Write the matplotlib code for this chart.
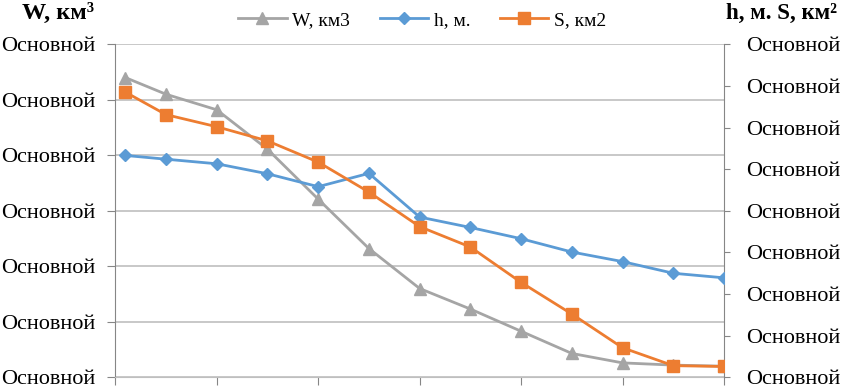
import matplotlib
matplotlib.use("Agg")
import matplotlib.pyplot as plt

# data (axis units: left 0..6, right 0..8)
x_vals = [0.2, 1, 2, 3, 4, 5, 6, 7, 8, 9, 10, 11, 12]
w_vals = [5.40, 5.10, 4.82, 4.11, 3.21, 2.32, 1.60, 1.23, 0.83, 0.43, 0.26, 0.22, 0.20]
h_vals = [5.33, 5.24, 5.13, 4.89, 4.58, 4.90, 3.85, 3.60, 3.33, 3.01, 2.78, 2.50, 2.39]
s_vals = [6.85, 6.31, 6.02, 5.68, 5.17, 4.45, 3.62, 3.13, 2.28, 1.52, 0.71, 0.28, 0.26]
left_ticks = [0, 1, 2, 3, 4, 5, 6]
right_ticks = [0, 1, 2, 3, 4, 5, 6, 7, 8]
tick_text = "Основной"

plt.rcParams['font.family'] = ['Liberation Serif', 'DejaVu Serif']

fig = plt.figure(figsize=(8.41, 3.86), dpi=100)
ax = fig.add_axes([0.1371, 0.0225, 0.8609 - 0.1371, 0.8852 - 0.0225])
ax2 = ax.twinx()

gray = '#A5A5A5'
blue = '#5B9BD5'
orange = '#ED7D31'

l1, = ax.plot(x_vals, w_vals, color=gray, lw=2.0, marker='^', ms=8, label='W, км3', zorder=3)
l2, = ax2.plot(x_vals, h_vals, color=blue, lw=2.0, marker='D', ms=6, label='h, м.', zorder=3)
l3, = ax2.plot(x_vals, s_vals, color=orange, lw=2.0, marker='s', ms=8, label='S, км2', zorder=4)

ax.set_xlim(0, 12)
ax.set_ylim(0, 6)
ax2.set_ylim(0, 8)
ax.set_xticks([0, 2, 4, 6, 8, 10, 12])
ax.set_xticklabels([])
ax.set_yticks(left_ticks)
ax.set_yticklabels([tick_text] * len(left_ticks), fontsize=16)
ax2.set_yticks(right_ticks)
ax2.set_yticklabels([tick_text] * len(right_ticks), fontsize=16)

ax.grid(axis='y', color='#BFBFBF', lw=1.2)
ax.set_axisbelow(True)
ax.spines['top'].set_visible(False)
ax2.spines['top'].set_visible(False)
ax.spines['right'].set_visible(False)
ax2.spines['left'].set_visible(False)
ax2.spines['bottom'].set_visible(False)
ax.spines['left'].set_color('#868686')
ax.spines['bottom'].set_color('#BFBFBF')
ax2.spines['right'].set_color('#868686')
ax.tick_params(axis='y', length=6, color='#868686', pad=8)
ax.tick_params(axis='x', length=6, color='#868686')
ax2.tick_params(axis='y', length=4, color='#868686', pad=12)

fig.text(0.026, 0.965, 'W, км³', fontsize=17.5, fontweight='bold', va='center')
fig.text(0.863, 0.965, 'h, м. S, км²', fontsize=16.5, fontweight='bold', va='center')

fig.legend(handles=[l1, l2, l3], loc='center', bbox_to_anchor=(0.502, 0.948), ncol=3,
           frameon=False, fontsize=14, handlelength=2.5, columnspacing=1.5,
           handletextpad=0.3)

fig.savefig('out.png', dpi=100)
